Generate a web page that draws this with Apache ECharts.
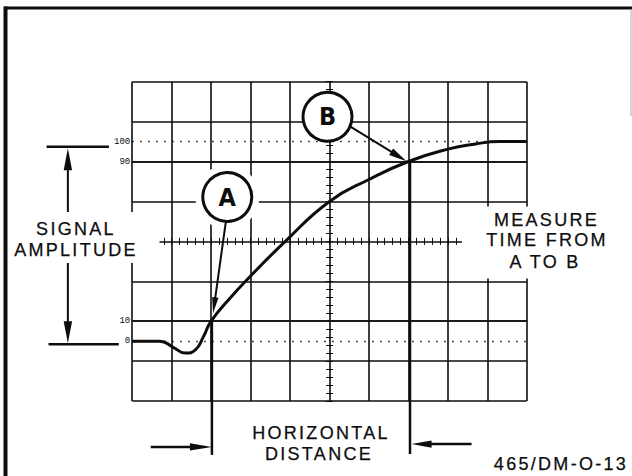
<!DOCTYPE html>
<html>
<head>
<meta charset="utf-8">
<script src="https://cdn.jsdelivr.net/npm/echarts@6/dist/echarts.min.js"></script>
<style>
  html, body { margin: 0; padding: 0; background: #fff; }
  #chart { width: 632px; height: 476px; }
  /* the drawing uses widely tracked lettering */
  #chart text[style*="18px"] { letter-spacing: 2.3px; }
</style>
</head>
<body>
<div id="chart"></div>
<script>
// graticule units: 10 x 8 divisions, origin at the centre of the screen
const curveX = [-5, -4.3, -3.95, -3.65, -3.4, -3.2, -3.0, -2.5, -2.03, -1.12, 0, 1, 2, 3, 3.7, 4.3, 5]
const curveY = [-2.5, -2.5, -2.66, -2.8, -2.72, -2.4, -2.0, -1.4, -0.9, 0, 1.0, 1.55, 2.0, 2.31, 2.44, 2.5, 2.5]

// 0% / 100% dotted lines and 10% / 90% lines
const dottedLevels = [2.5, -2.5]
const dottedNames = ['100', '0']
const solidLevels = [2, -2]
const solidNames = ['90', '10']

// circled letters
const markerNames = ['A', 'B']
const markerX = [-2.59, -0.05]
const markerY = [1.11, 3.12]

// annotation geometry (graticule units)
const arrowA = [[-2.63, 0.47], [-2.95, -1.80]]
const arrowB = [[0.54, 2.87], [1.95, 2.01]]
const dropA = [[-2.98, -2.0], [-2.98, -5.35]]
const dropB = [[2.04, 2.0], [2.04, -5.33]]
const distLeft = [[-4.53, -5.15], [-2.98, -5.15]]
const distRight = [[3.6, -5.08], [2.08, -5.08]]
const ampX = -6.63
const ampTop = 2.33
const ampBottom = -2.55
const barTop = [[-7.17, 2.37], [-5.59, 2.37]]
const barBottom = [[-7.12, -2.58], [-5.34, -2.58]]

const black = '#0d0d0d'
const chart = echarts.init(document.getElementById('chart'), null, {renderer: 'svg'})

const gl = 132.2, gr = 105.2, gt = 81.7, gb = 75   // graticule box
const cx = 329.5, cy = 241.35, half = 3.5            // centre lines, half mark length

function axis(gridIndex, min, max, interval, split) {
    return {
        type: 'value', gridIndex: gridIndex, min: min, max: max, interval: interval,
        axisLine: {show: false, onZero: false}, axisTick: {show: false}, axisLabel: {show: false},
        splitLine: {show: split, lineStyle: {color: black, width: split === true ? 1.6 : 1}}
    }
}

const curve = curveX.map((x, i) => [x, curveY[i]])
const levelLines = []
dottedLevels.forEach((v, i) => levelLines.push({
    yAxis: v, name: dottedNames[i],
    lineStyle: {type: [1.5, 6.5], color: black, width: 1.3}
}))
solidLevels.forEach((v, i) => levelLines.push({
    yAxis: v, name: solidNames[i],
    lineStyle: {type: 'solid', color: black, width: 1.6}
}))
const markers = markerNames.map((n, i) => ({name: n, value: [markerX[i], markerY[i]]}))

chart.setOption({
    animation: false,
    backgroundColor: '#fff',
    grid: [
        {left: gl, right: gr, top: gt, bottom: gb, outerBoundsMode: 'none'},
        // thin strip on the horizontal centre line: its split lines are the 0.2 div marks
        {left: gl, right: gr, top: cy - half, height: 2 * half, outerBoundsMode: 'none'},
        // thin strip on the vertical centre line
        {left: cx - half, width: 2 * half, top: gt, bottom: gb, outerBoundsMode: 'none'}
    ],
    xAxis: [axis(0, -5, 5, 1, true), axis(1, -5, 5, 0.2, 1), axis(2, 0, 1, 1, false)],
    yAxis: [axis(0, -4, 4, 1, true), axis(1, 0, 1, 1, false), axis(2, -4, 4, 0.2, 1)],
    series: [
        {
            // white gap left round circle A
            type: 'scatter', z: 3, silent: true,
            data: markers.filter(m => m.name === 'A'),
            symbol: 'circle', symbolSize: 64,
            itemStyle: {color: '#fff', opacity: 1}
        },
        {
            type: 'line', z: 4, silent: true,
            data: curve,
            smooth: 0.5,
            showSymbol: false, symbol: 'none',
            lineStyle: {color: black, width: 3},
            markLine: {
                silent: true, symbol: 'none',
                label: {
                    show: true, position: 'start', formatter: '{b}', distance: 2,
                    fontSize: 9, fontFamily: 'Liberation Mono', color: black
                },
                data: levelLines
            }
        },
        {
            type: 'scatter', z: 6, silent: true,
            data: markers,
            symbol: 'circle', symbolSize: 49,
            itemStyle: {color: '#fff', borderColor: black, borderWidth: 3, opacity: 1},
            label: {
                show: true, position: 'inside', formatter: '{b}',
                fontSize: 25, fontWeight: 'bold',
                fontFamily: "'Liberation Sans Narrow', 'DejaVu Sans Condensed', sans-serif",
                color: black
            }
        }
    ]
})

const toPx = p => chart.convertToPixel({xAxisIndex: 0, yAxisIndex: 0}, p)

function seg(p, q, w) {
    const a = toPx(p), b = toPx(q)
    return {type: 'line', z: 5, silent: true,
        shape: {x1: a[0], y1: a[1], x2: b[0], y2: b[1]},
        style: {stroke: black, lineWidth: w}}
}

function arrow(p, q, head, hw, w) {
    const a = toPx(p), b = toPx(q)
    const dx = b[0] - a[0], dy = b[1] - a[1]
    const len = Math.hypot(dx, dy)
    const ux = dx / len, uy = dy / len
    const bx = b[0] - ux * head, by = b[1] - uy * head
    return [
        {type: 'line', z: 5, silent: true,
            shape: {x1: a[0], y1: a[1], x2: bx + ux, y2: by + uy},
            style: {stroke: black, lineWidth: w}},
        {type: 'polygon', z: 5, silent: true,
            shape: {points: [[b[0], b[1]], [bx - uy * hw, by + ux * hw], [bx + uy * hw, by - ux * hw]]},
            style: {fill: black}}
    ]
}

function label(text, x, y) {
    return {type: 'text', z: 11, silent: true, x: x, y: y,
        style: {text: text, fontSize: 18, fontFamily: "'Liberation Sans', Arial, sans-serif",
            fill: black, stroke: black, lineWidth: 0.25,
            align: 'center', verticalAlign: 'middle'}}
}

function box(x, y, w, h) {
    return {type: 'rect', z: 10, silent: true,
        shape: {x: x, y: y, width: w, height: h}, style: {fill: '#fff'}}
}

const g = []
// frame of the figure
g.push({type: 'line', z: 12, shape: {x1: 5.5, y1: 6.5, x2: 5.5, y2: 476}, style: {stroke: black, lineWidth: 4}})
g.push({type: 'line', z: 12, shape: {x1: 4, y1: 8, x2: 632, y2: 8}, style: {stroke: black, lineWidth: 3}})
g.push({type: 'line', z: 12, shape: {x1: 631, y1: 9, x2: 631, y2: 116}, style: {stroke: '#aaa', lineWidth: 1}})

g.push(...arrow(arrowA[0], arrowA[1], 16, 3.2, 2))
g.push(...arrow(arrowB[0], arrowB[1], 18, 3.8, 2))
g.push(seg(dropA[0], dropA[1], 2.5))
g.push(seg(dropB[0], dropB[1], 2.5))
g.push(...arrow(distLeft[0], distLeft[1], 22, 3.7, 2.5))
g.push(...arrow(distRight[0], distRight[1], 20, 3.7, 2.5))
g.push(...arrow([ampX, 0], [ampX, ampTop], 22, 4.2, 2))
g.push(...arrow([ampX, 0], [ampX, ampBottom], 22, 4.2, 2))
g.push(seg(barTop[0], barTop[1], 2.5))
g.push(seg(barBottom[0], barBottom[1], 2.5))

// white panels behind the lettering
g.push(box(9, 212, 150.5, 51))
g.push(box(462, 206.5, 152, 72))

g.push(label('SIGNAL', 76, 228.5))
g.push(label('AMPLITUDE', 76, 250))
g.push(label('MEASURE', 546.5, 220))
g.push(label('TIME FROM', 547, 240))
g.push(label('A TO B', 545, 262))
g.push(label('HORIZONTAL', 321, 433))
g.push(label('DISTANCE', 319, 454))
g.push(label('465/DM-O-13', 561, 463.5))

chart.setOption({graphic: g})
</script>
</body>
</html>
